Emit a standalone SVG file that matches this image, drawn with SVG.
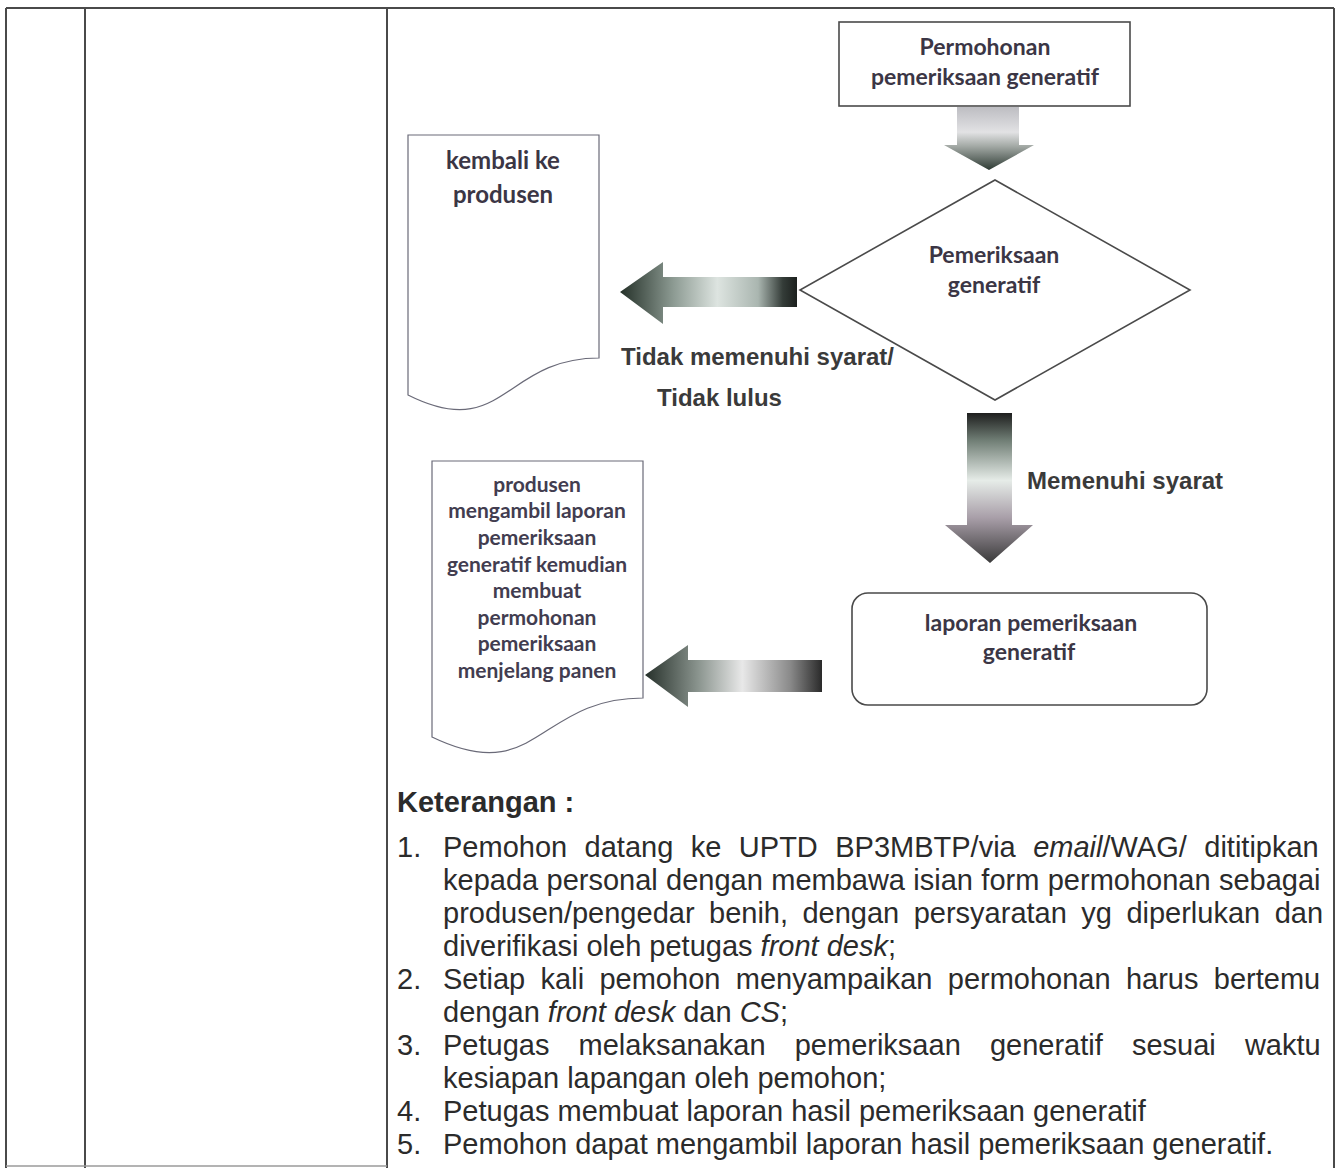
<svg xmlns="http://www.w3.org/2000/svg" width="1340" height="1168" viewBox="0 0 1340 1168">
  <defs>
    <style>
      .frame { stroke: #4a4a4a; stroke-width: 2; fill: none; }
      .shape { fill: #ffffff; stroke: #4a4a4a; stroke-width: 1.6; }
      .doc { fill: #ffffff; stroke: #6a6a78; stroke-width: 1.2; }
      .lbl { font-family: Lato, "Open Sans", "Liberation Sans", sans-serif; font-weight: 700; font-size: 23px; fill: #3b3645; text-anchor: middle; }
      .big { font-size: 24px; }
      .doclbl { font-family: Lato, "Open Sans", "Liberation Sans", sans-serif; font-weight: 700; font-size: 21px; fill: #423d50; text-anchor: middle; }
      .cap { font-family: "Liberation Sans", Arial, sans-serif; font-weight: 700; font-size: 24px; fill: #3a3a3a; }
      .note { font-family: "Liberation Sans", Arial, sans-serif; font-size: 29px; fill: #2b2b2b; }
      .head { font-family: "Liberation Sans", Arial, sans-serif; font-size: 29px; font-weight: 700; fill: #2b2b2b; }
      .it { font-style: italic; }
    </style>
    <linearGradient id="gDown1" x1="0" y1="0" x2="0" y2="1">
      <stop offset="0" stop-color="#bdbdc2"/>
      <stop offset="0.4" stop-color="#e2e2e4"/>
      <stop offset="0.62" stop-color="#a4aaa6"/>
      <stop offset="1" stop-color="#2e3b34"/>
    </linearGradient>
    <linearGradient id="gDown2" x1="0" y1="0" x2="0" y2="1">
      <stop offset="0" stop-color="#1e1e1e"/>
      <stop offset="0.18" stop-color="#6f7d74"/>
      <stop offset="0.45" stop-color="#e6ece8"/>
      <stop offset="0.7" stop-color="#a89ea8"/>
      <stop offset="1" stop-color="#3a3a3a"/>
    </linearGradient>
    <linearGradient id="gLeft1" x1="0" y1="0" x2="1" y2="0">
      <stop offset="0" stop-color="#243028"/>
      <stop offset="0.3" stop-color="#8c9a92"/>
      <stop offset="0.55" stop-color="#dde4e0"/>
      <stop offset="0.78" stop-color="#aab6b0"/>
      <stop offset="0.92" stop-color="#343c38"/>
      <stop offset="1" stop-color="#1c201e"/>
    </linearGradient>
    <linearGradient id="gLeft2" x1="0" y1="0" x2="1" y2="0">
      <stop offset="0" stop-color="#26302a"/>
      <stop offset="0.3" stop-color="#8a948e"/>
      <stop offset="0.55" stop-color="#e8e8e8"/>
      <stop offset="0.82" stop-color="#8a8a8a"/>
      <stop offset="1" stop-color="#2a2a2a"/>
    </linearGradient>
  </defs>

  <rect width="1340" height="1168" fill="#ffffff"/>

  <!-- table frame -->
  <g id="table">
    <line class="frame" x1="6" y1="8" x2="1334" y2="8"/>
    <line class="frame" x1="6" y1="8" x2="6" y2="1168"/>
    <line class="frame" x1="85" y1="8" x2="85" y2="1168"/>
    <line class="frame" x1="387" y1="8" x2="387" y2="1168"/>
    <line class="frame" x1="1334" y1="8" x2="1334" y2="1168"/>
    <line x1="6" y1="1166" x2="387" y2="1166" stroke="#9a9a9a" stroke-width="1.5"/>
  </g>

  <!-- block arrows and their labels -->
  <g id="connectors">
    <polygon points="957,107 1019,107 1019,145 1034,145 989,170 944,145 957,145" fill="url(#gDown1)"/>
    <polygon points="797,277 797,307 663,307 663,324 620,292 663,262 663,277" fill="url(#gLeft1)"/>
    <polygon points="967,413 1012,413 1012,525 1033,525 990,563 945,525 967,525" fill="url(#gDown2)"/>
    <polygon points="822,660 822,692 688,692 688,707 645,675 688,645 688,660" fill="url(#gLeft2)"/>
    <text class="cap" x="621" y="365">Tidak memenuhi syarat/</text>
    <text class="cap" x="657" y="406">Tidak lulus</text>
    <text class="cap" x="1027" y="489">Memenuhi syarat</text>
  </g>

  <g id="n-request">
    <rect class="shape" x="839" y="22" width="291" height="84"/>
    <text class="lbl" x="985" y="55">Permohonan</text>
    <text class="lbl" x="985" y="85">pemeriksaan generatif</text>
  </g>

  <g id="n-check">
    <polygon class="shape" points="995,180 1190,290 995,400 800,290"/>
    <text class="lbl" x="994" y="263">Pemeriksaan</text>
    <text class="lbl" x="994" y="293">generatif</text>
  </g>

  <g id="n-return">
    <path class="doc" d="M408,135 H599 V358 C503.5,358 503.5,443 408,395 Z"/>
    <text class="lbl big" x="503" y="169">kembali ke</text>
    <text class="lbl big" x="503" y="203">produsen</text>
  </g>

  <g id="n-report">
    <rect class="shape" x="852" y="593" width="355" height="112" rx="16"/>
    <text class="lbl" x="1031" y="631">laporan pemeriksaan</text>
    <text class="lbl" x="1029" y="660">generatif</text>
  </g>

  <g id="n-next">
    <path class="doc" d="M432,461 H643 V698 C537.5,698 537.5,788 432,737 Z"/>
    <text class="doclbl" x="537" y="492">produsen</text>
    <text class="doclbl" x="537" y="518">mengambil laporan</text>
    <text class="doclbl" x="537" y="545">pemeriksaan</text>
    <text class="doclbl" x="537" y="572">generatif kemudian</text>
    <text class="doclbl" x="537" y="598">membuat</text>
    <text class="doclbl" x="537" y="625">permohonan</text>
    <text class="doclbl" x="537" y="651">pemeriksaan</text>
    <text class="doclbl" x="537" y="678">menjelang panen</text>
  </g>

  <!-- explanatory notes -->
  <g id="notes">
    <text class="head" x="397" y="812">Keterangan :</text>
    <text class="note" x="397" y="857">1.</text>
    <text class="note" x="443" y="857" word-spacing="9.4">Pemohon datang ke UPTD BP3MBTP/via <tspan class="it">email</tspan>/WAG/ dititipkan</text>
    <text class="note" x="443" y="890" word-spacing="0.3">kepada personal dengan membawa isian form permohonan sebagai</text>
    <text class="note" x="443" y="923" word-spacing="6.4">produsen/pengedar benih, dengan persyaratan yg diperlukan dan</text>
    <text class="note" x="443" y="956">diverifikasi oleh petugas <tspan class="it">front desk</tspan>;</text>
    <text class="note" x="397" y="989">2.</text>
    <text class="note" x="443" y="989" word-spacing="7.3">Setiap kali pemohon menyampaikan permohonan harus bertemu</text>
    <text class="note" x="443" y="1022">dengan <tspan class="it">front desk</tspan> dan <tspan class="it">CS</tspan>;</text>
    <text class="note" x="397" y="1055">3.</text>
    <text class="note" x="443" y="1055" word-spacing="21.1">Petugas melaksanakan pemeriksaan generatif sesuai waktu</text>
    <text class="note" x="443" y="1088">kesiapan lapangan oleh pemohon;</text>
    <text class="note" x="397" y="1121">4.</text>
    <text class="note" x="443" y="1121">Petugas membuat laporan hasil pemeriksaan generatif</text>
    <text class="note" x="397" y="1154">5.</text>
    <text class="note" x="443" y="1154">Pemohon dapat mengambil laporan hasil pemeriksaan generatif.</text>
  </g>
</svg>
